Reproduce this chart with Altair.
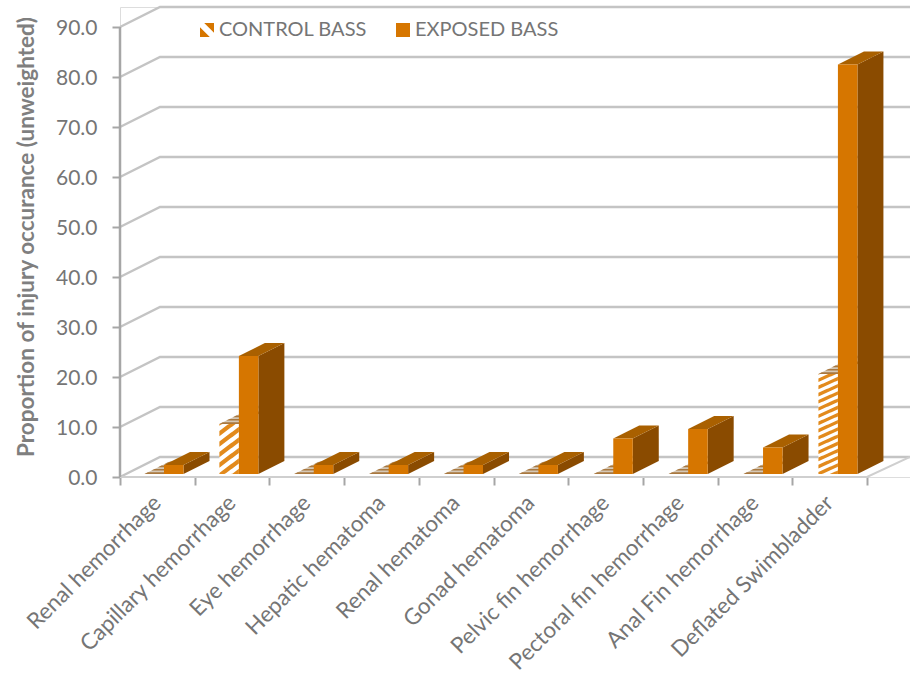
import altair as alt
import pandas as pd

categories = [
    "Renal hemorrhage", "Capillary hemorrhage", "Eye hemorrhage", "Hepatic hematoma",
    "Renal hematoma", "Gonad hematoma", "Pelvic fin hemorrhage", "Pectoral fin hemorrhage",
    "Anal Fin hemorrhage", "Deflated Swimbladder",
]
control_bass = [0.0, 10.0, 0.0, 0.0, 0.0, 0.0, 0.0, 0.0, 0.0, 20.0]
exposed_bass = [1.8, 23.6, 1.8, 1.8, 1.8, 1.8, 7.1, 9.0, 5.3, 81.9]
y_ticks = [0, 10, 20, 30, 40, 50, 60, 70, 80, 90]
series_names = ["CONTROL BASS", "EXPOSED BASS"]

ORANGE = "#D67600"
SIDE = "#8A4B00"
TOP = "#A96000"
HATCH = "#E28A1C"
GRID = "#C4C4C4"
AXIS = "#A6A6A6"
TEXT = "#757575"
FONT = "Lato"

# Projection: one category is 74.7 px wide, one value unit is 5 px tall.
PX_X = 1 / 74.7
PX_Y = 1 / 5
WIDTH, HEIGHT = 790, 470
X_MAX = WIDTH * PX_X
Y_MAX = HEIGHT * PX_Y
WALL_X, WALL_Y = 40 * PX_X, 20 * PX_Y
BAR_DX, BAR_DY = 26 * PX_X, 13 * PX_Y
BASE_Y = 3 * PX_Y
BAR_W = 19.5 * PX_X
EXPOSED_START = 44 * PX_X
CONTROL_START = EXPOSED_START - BAR_W
BAR_STEP = 74.88 * PX_X

x_scale = alt.Scale(domain=[0, X_MAX], nice=False, zero=False)
y_scale = alt.Scale(domain=[0, Y_MAX], nice=False, zero=False)

labels_js = "[" + ",".join(f"'{c}'" for c in categories) + "]"
x_axis = alt.Axis(
    values=list(range(11)), domain=False, grid=False, title=None,
    tickColor=AXIS, tickWidth=2, tickSize=8,
    labelExpr=f"{labels_js}[datum.value] || ''",
    labelAngle=-45, labelAlign="right", labelBaseline="middle",
    labelOffset=37, labelPadding=14, labelOverlap=False, labelBound=False, labelFlush=False,
    labelLimit=400, labelFont=FONT, labelFontSize=22.4, labelColor=TEXT,
)
y_axis = alt.Axis(
    values=y_ticks, format=".1f", domain=False, grid=False,
    title="Proportion of injury occurance (unweighted)",
    titleFont=FONT, titleFontSize=22.5, titleFontWeight="bold", titleColor="#7F7F7F",
    titleX=-82, titleY=229.5,
    tickColor=AXIS, tickWidth=2, tickSize=8, labelPadding=15, labelOffset=1.5,
    labelFont=FONT, labelFontSize=21, labelColor=TEXT,
)


def X(field="x"):
    return alt.X(f"{field}:Q", scale=x_scale, axis=x_axis, stack=None)


def Y(field="y"):
    return alt.Y(f"{field}:Q", scale=y_scale, axis=y_axis, stack=None)


# Back wall gridlines, each with its slanted run towards the front axis
grid_rows = []
for v in y_ticks:
    grid_rows += [
        {"g": v, "x": 0, "y": v},
        {"g": v, "x": WALL_X, "y": v + WALL_Y},
        {"g": v, "x": X_MAX, "y": v + WALL_Y},
    ]
grid = alt.Chart(pd.DataFrame(grid_rows)).mark_line(color=GRID, strokeWidth=2.4).encode(
    x=X(), y=Y(), detail="g:N", order="x:Q"
)

# Floor edge at the front and on the right
floor_rows = [
    {"x": 0, "y": 0},
    {"x": 10, "y": 0},
    {"x": X_MAX, "y": WALL_Y},
]
floor = alt.Chart(pd.DataFrame(floor_rows)).mark_line(color="#CFCFCF", strokeWidth=2).encode(
    x=X(), y=Y(), order="x:Q"
)

# Bar geometry
front_rows, top_rows, side_rows = [], [], []
white_rows, band_rows, tan_rows, stripe_rows = [], [], [], []
for i, (c, e) in enumerate(zip(control_bass, exposed_bass)):
    xc = i * BAR_STEP + CONTROL_START
    xe = i * BAR_STEP + EXPOSED_START
    # exposed bar: front, top and side faces
    front_rows.append({"x": xe, "x2": xe + BAR_W, "y": BASE_Y, "y2": BASE_Y + e})
    top_rows += [
        {"b": i, "x": xe, "x2": xe + BAR_W, "y": BASE_Y + e},
        {"b": i, "x": xe + BAR_DX, "x2": xe + BAR_W + BAR_DX, "y": BASE_Y + e + BAR_DY},
    ]
    side_rows += [
        {"b": i, "x": xe + BAR_W, "y": BASE_Y, "y2": BASE_Y + e},
        {"b": i, "x": xe + BAR_W + BAR_DX, "y": BASE_Y + BAR_DY, "y2": BASE_Y + e + BAR_DY},
    ]
    # control bar: pale top face with darker bands running across it
    top_y = BASE_Y + c
    tan_rows += [
        {"b": i, "x": xc, "x2": xc + BAR_W, "y": top_y},
        {"b": i, "x": xc + BAR_DX, "x2": xc + BAR_W + BAR_DX, "y": top_y + BAR_DY},
    ]
    for k, (d0, d1) in enumerate([(0.0, 0.13), (0.26, 0.39), (0.52, 0.65), (0.78, 0.91)]):
        band_rows += [
            {"b": f"{i}-{k}", "x": xc + d0 * BAR_DX, "x2": xc + BAR_W + d0 * BAR_DX, "y": top_y + d0 * BAR_DY},
            {"b": f"{i}-{k}", "x": xc + d1 * BAR_DX, "x2": xc + BAR_W + d1 * BAR_DX, "y": top_y + d1 * BAR_DY},
        ]
    # control bar: white front with diagonal orange hatching
    if c > 0:
        white_rows.append({"x": xc, "x2": xc + BAR_W, "y": BASE_Y, "y2": top_y})
        period = (7.2 if c > 15 else 10.5) * PX_Y
        slope = (0.45 if c > 15 else 0.75) * (PX_Y / PX_X)
        thick = period * 0.5
        rise = slope * BAR_W
        start = BASE_Y - rise - period
        k = 0
        while start + k * period < top_y:
            low0 = start + k * period
            for n in range(13):
                t = n / 12
                low = low0 + rise * t
                stripe_rows.append({
                    "s": f"{i}-{k}",
                    "x": xc + BAR_W * t,
                    "y": min(max(low, BASE_Y), top_y),
                    "y2": min(max(low + thick, BASE_Y), top_y),
                })
            k += 1

control_white = alt.Chart(pd.DataFrame(white_rows)).mark_rect(color="white").encode(
    x=X(), x2="x2:Q", y=Y(), y2="y2:Q"
)
control_stripes = alt.Chart(pd.DataFrame(stripe_rows)).mark_area(color=HATCH, orient="vertical").encode(
    x=X(), y=Y(), y2="y2:Q", detail="s:N"
)
control_top = alt.Chart(pd.DataFrame(tan_rows)).mark_area(color="#D5C8B6", orient="horizontal").encode(
    x=X(), x2="x2:Q", y=Y(), detail="b:N"
)
control_bands = alt.Chart(pd.DataFrame(band_rows)).mark_area(color="#A9783F", orient="horizontal").encode(
    x=X(), x2="x2:Q", y=Y(), detail="b:N"
)
exposed_side = alt.Chart(pd.DataFrame(side_rows)).mark_area(color=SIDE, orient="vertical").encode(
    x=X(), y=Y(), y2="y2:Q", detail="b:N"
)
exposed_top = alt.Chart(pd.DataFrame(top_rows)).mark_area(color=TOP, orient="horizontal").encode(
    x=X(), x2="x2:Q", y=Y(), detail="b:N"
)
exposed_front = alt.Chart(pd.DataFrame(front_rows)).mark_rect(color=ORANGE).encode(
    x=X(), x2="x2:Q", y=Y(), y2="y2:Q"
)

# Front vertical axis line, stopping at the top tick
axis_line = alt.Chart(pd.DataFrame({"x": [0], "y": [0], "y2": [y_ticks[-1]]})).mark_rule(
    color=AXIS, strokeWidth=2.5
).encode(x=X(), y=Y(), y2="y2:Q")

# Legend swatches: the control swatch is two opposite corners of a square
legend_df = pd.DataFrame({"series": series_names, "x": [0, 0], "y": [0, 0]})
swatch = "M-0.4,-1L1,-1L1,0.4ZM-1,-0.4L0.4,1L-1,1Z"
legend_layer = alt.Chart(legend_df).mark_point(filled=True, size=0, strokeWidth=0, opacity=1).encode(
    x=X(), y=Y(),
    color=alt.Color("series:N", scale=alt.Scale(domain=series_names, range=[ORANGE, ORANGE]), legend=alt.Legend(
        title=None, orient="none", legendX=77, legendY=13, direction="horizontal", columns=2,
        symbolSize=196, symbolStrokeWidth=0, symbolOpacity=1, columnPadding=26,
        labelFont=FONT, labelFontSize=20, labelColor=TEXT, labelOffset=2,
    )),
    shape=alt.Shape("series:N", scale=alt.Scale(domain=series_names, range=[swatch, "square"])),
)

chart = alt.layer(
    grid, floor, control_white, control_stripes, control_top, control_bands,
    exposed_side, exposed_top, exposed_front, axis_line, legend_layer,
).properties(
    width=WIDTH, height=HEIGHT,
    padding={"left": 120, "top": 7, "right": 0, "bottom": 199},
    autosize=alt.AutoSizeParams(type="none"),
).configure_view(stroke=None).configure(background="white")

chart.save("out.html", embed_options={"renderer": "svg", "actions": False})
